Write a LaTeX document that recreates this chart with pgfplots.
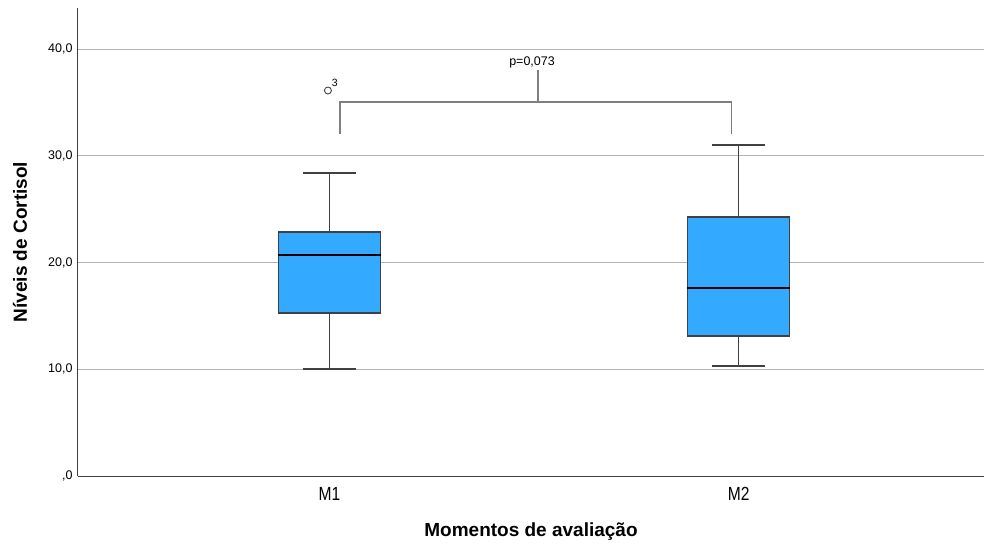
\documentclass[border=0pt]{standalone}
\usepackage{fontspec}
\setmainfont{Liberation Sans}
\usepackage{pgfplots}
\pgfplotsset{compat=1.18}
\definecolor{boxblue}{HTML}{33AAFF}
\definecolor{gridgray}{HTML}{B4B4B4}
\definecolor{brgray}{HTML}{7F7F7F}
\definecolor{axgray}{HTML}{404040}
\begin{document}
\begin{tikzpicture}
\useasboundingbox (-78pt,-74pt) rectangle (906pt,476pt);
\begin{axis}[
  scale only axis, width=906pt, height=468pt,
  xmin=0.385, xmax=2.6, ymin=0, ymax=43.84,
  axis x line=bottom, axis y line=left,
  axis line style={-, draw=axgray, line width=1pt},
  xtick={1,2}, xticklabels={M1,M2},
  ytick={0,10,20,30,40},
  yticklabels={{,0},{10,0},{20,0},{30,0},{40,0}},
  ymajorgrids, grid style={gridgray, line width=0.8pt},
  major tick length=0pt,
  x tick label style={font=\fontsize{19}{19}\selectfont, xscale=0.82, yshift=-8pt},
  y tick label style={font=\fontsize{12.5}{12.5}\selectfont, xshift=-2pt},
  xlabel={Momentos de avaliação},
  ylabel={Níveis de Cortisol},
  xlabel style={font=\bfseries\fontsize{19}{19}\selectfont, at={(axis description cs:0.5,-0.1197)}, anchor=center},
  ylabel style={font=\bfseries\fontsize{19}{19}\selectfont, at={(axis description cs:-0.064,0.5)}, anchor=center},
  clip=false,
]
% M1
\addplot[axgray, line width=1.2pt] coordinates {(1,22.86) (1,28.38)};
\addplot[axgray, line width=1.2pt] coordinates {(1,10.02) (1,15.27)};
\addplot[axgray, line width=1.2pt] coordinates {(0.935,28.38) (1.065,28.38)};
\addplot[axgray, line width=1.2pt] coordinates {(0.935,10.02) (1.065,10.02)};
\addplot[fill=boxblue, draw=axgray, line width=1.2pt] coordinates {(0.875,15.27) (1.125,15.27) (1.125,22.86) (0.875,22.86)} -- cycle;
\addplot[black, line width=2pt] coordinates {(0.875,20.70) (1.125,20.70)};
\addplot[only marks, mark=o, mark size=3.5pt, mark options={draw=axgray, line width=0.9pt}] coordinates {(0.996,36.11)};
% M2
\addplot[axgray, line width=1.2pt] coordinates {(2,24.26) (2,31.00)};
\addplot[axgray, line width=1.2pt] coordinates {(2,10.30) (2,13.11)};
\addplot[axgray, line width=1.2pt] coordinates {(1.935,31.00) (2.065,31.00)};
\addplot[axgray, line width=1.2pt] coordinates {(1.935,10.30) (2.065,10.30)};
\addplot[fill=boxblue, draw=axgray, line width=1.2pt] coordinates {(1.875,13.11) (2.125,13.11) (2.125,24.26) (1.875,24.26)} -- cycle;
\addplot[black, line width=2pt] coordinates {(1.875,17.61) (2.125,17.61)};
% bracket
\addplot[brgray, line width=1.5pt, mark=none] coordinates {(1.026,32.04) (1.026,35.03) (1.983,35.03) (1.983,32.04)};
\addplot[brgray, line width=1.5pt, mark=none] coordinates {(1.509,35.03) (1.509,38.03)};
\node[font=\fontsize{12.5}{12.5}\selectfont] at (axis cs:1.495,38.75) {p=0,073};
\node[font=\fontsize{10.5}{10.5}\selectfont] at (axis cs:1.013,36.8) {3};
\end{axis}
\end{tikzpicture}
\end{document}
